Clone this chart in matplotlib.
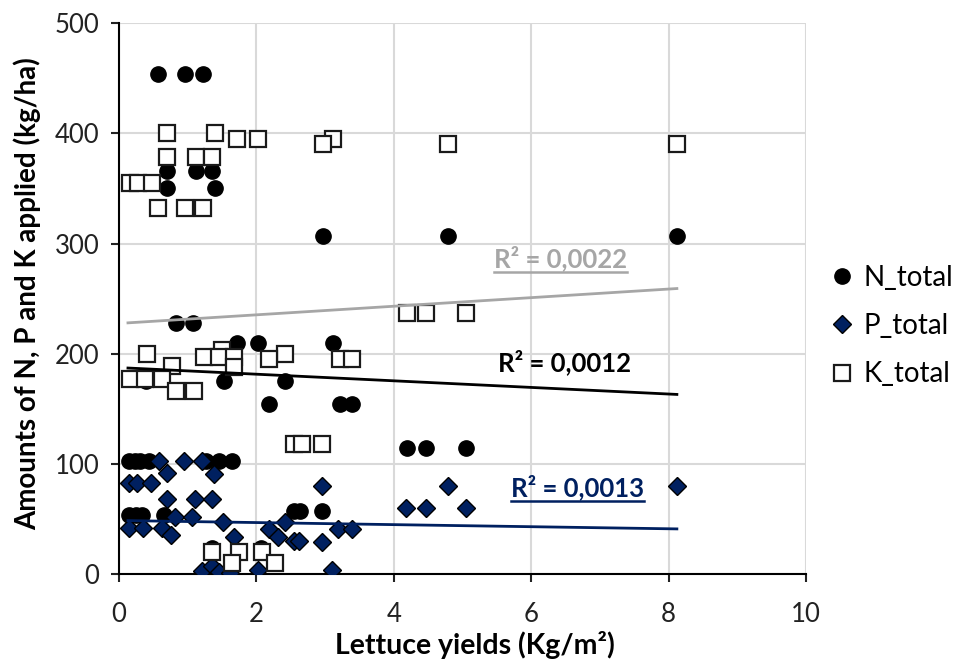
import matplotlib.pyplot as plt
from matplotlib.lines import Line2D
import numpy as np

plt.rcParams['font.family'] = ['Lato', 'DejaVu Sans']

# ---- data ----
n_x = [0.57, 0.96, 1.22, 0.70, 1.12, 1.36, 0.70, 1.40, 2.965, 4.79, 8.12,
       0.825, 1.08, 1.72, 2.03, 3.11, 0.39, 1.53, 2.42, 2.19, 3.21, 3.39,
       4.19, 4.47, 5.05, 0.15, 0.23, 0.31, 0.43, 1.27, 1.46, 1.64,
       0.15, 0.24, 0.34, 0.65, 2.54, 2.63, 2.95, 1.35, 2.07]
n_y = [454, 454, 454, 366, 366, 366, 350, 350, 307, 307, 307,
       228, 228, 210, 210, 210, 175, 175, 175, 154, 154, 154,
       114, 114, 114, 103, 103, 103, 103, 103, 103, 103,
       54, 54, 54, 54, 57, 57, 57, 24, 24]

p_x = [0.58, 0.94, 1.21, 0.14, 0.26, 0.46, 0.70, 1.38, 0.70, 1.11, 1.35,
       0.82, 1.06, 0.14, 0.35, 0.63, 0.76, 1.52, 1.67, 2.18, 2.32, 2.42,
       2.54, 2.62, 2.95, 2.95, 4.79, 8.12, 4.18, 4.47, 5.05, 3.19, 3.39,
       3.10, 2.03, 1.21, 1.35, 1.45, 1.62]
p_y = [103, 103, 103, 83, 83, 83, 92, 91, 68, 68, 68,
       52, 52, 42, 42, 42, 35, 47, 34, 41, 34, 47,
       30, 30, 29, 80, 80, 80, 60, 60, 60, 41, 41,
       4, 4, 3, 7, 2, 1]

k_x = [0.70, 1.39, 1.71, 2.02, 3.11, 2.965, 4.79, 8.12, 0.70, 1.12, 1.36,
       0.16, 0.28, 0.48, 0.57, 0.96, 1.22, 4.19, 4.47, 5.05, 0.40, 2.42,
       1.50, 1.23, 1.45, 1.67, 2.19, 3.21, 3.39, 0.77, 1.68, 0.165, 0.38,
       0.62, 0.83, 1.09, 2.55, 2.66, 2.95, 1.35, 1.74, 2.08, 1.64, 2.27]
k_y = [400, 400, 395, 395, 395, 390, 390, 390, 379, 379, 379,
       355, 355, 355, 332, 332, 332, 237, 237, 237, 200, 200,
       203, 197, 197, 197, 195, 195, 195, 189, 188, 177, 177,
       177, 166, 166, 118, 118, 118, 20, 20, 20, 10, 10]

# linear trend lines (intercept, slope) as shown in the chart
trend_k = (227.5, 3.9)
trend_n = (187.4, -3.0)
trend_p = (48.6, -0.94)
trend_range = [0.13, 8.12]

r2_labels = ['R² = 0,0022', 'R² = 0,0012', 'R² = 0,0013']

navy = '#002060'
grey = '#a6a6a6'

fig = plt.figure(figsize=(9.63, 6.64), dpi=100)
ax = fig.add_axes([0.1236, 0.1355, 0.7134, 0.8295])

ax.plot(n_x, n_y, 'o', ms=11, color='black', label='N_total', zorder=3)
ax.plot(p_x, p_y, 'D', ms=9.5, mfc=navy, mec='black', mew=1.0, label='P_total', zorder=4)
ax.plot(k_x, k_y, 's', ms=12, mfc='white', mec='#1a1a1a', mew=1.6, label='K_total', zorder=5)

xs = np.array(trend_range)
ax.plot(xs, trend_k[0] + trend_k[1] * xs, color=grey, lw=2, zorder=6)
ax.plot(xs, trend_n[0] + trend_n[1] * xs, color='black', lw=2, zorder=6)
ax.plot(xs, trend_p[0] + trend_p[1] * xs, color=navy, lw=2, zorder=6)

ax.set_xlim(0, 10)
ax.set_ylim(0, 500)
ax.set_xticks(range(0, 11, 2))
ax.set_yticks(range(0, 501, 100))
ax.grid(True, color='#d9d9d9', lw=1.5)
ax.set_axisbelow(True)
for s in ['top', 'right']:
    ax.spines[s].set_visible(False)
for s in ['left', 'bottom']:
    ax.spines[s].set_linewidth(1.5)
ax.tick_params(labelsize=18.5, length=6, width=1.5, colors='#222222')
ax.tick_params(axis='x', pad=14)
ax.tick_params(axis='y', pad=8)

ax.set_xlabel('Lettuce yields (Kg/m²)', fontsize=20.5, fontweight='bold')
ax.xaxis.set_label_coords(0.518, -0.103)
ax.set_ylabel('Amounts of N, P and K applied (kg/ha)', fontsize=20, fontweight='bold')
ax.yaxis.set_label_coords(-0.113, 0.51)

# R² labels
t1 = ax.text(6.43, 287, r2_labels[0], color=grey, fontsize=18.5, fontweight='bold', ha='center', va='center')
t2 = ax.text(6.48, 192, r2_labels[1], color='black', fontsize=18.5, fontweight='bold', ha='center', va='center')
t3 = ax.text(6.67, 79, r2_labels[2], color=navy, fontsize=18.5, fontweight='bold', ha='center', va='center')

leg = fig.legend(loc='center left', bbox_to_anchor=(828 / 963, 1 - 326 / 664), frameon=False,
                 fontsize=20, handletextpad=0.28, labelspacing=0.8, handlelength=1.0,
                 borderpad=0, borderaxespad=0)

# underline the grey and navy labels
fig.canvas.draw()
inv = fig.transFigure.inverted()
for t, c in [(t1, grey), (t3, navy)]:
    bb = t.get_window_extent()
    (x0, y0), (x1, _) = inv.transform([(bb.x0, bb.y0 - 1), (bb.x1, bb.y0)])
    fig.add_artist(Line2D([x0, x1], [y0, y0], color=c, lw=1.8))

fig.savefig('out.png', dpi=100)
